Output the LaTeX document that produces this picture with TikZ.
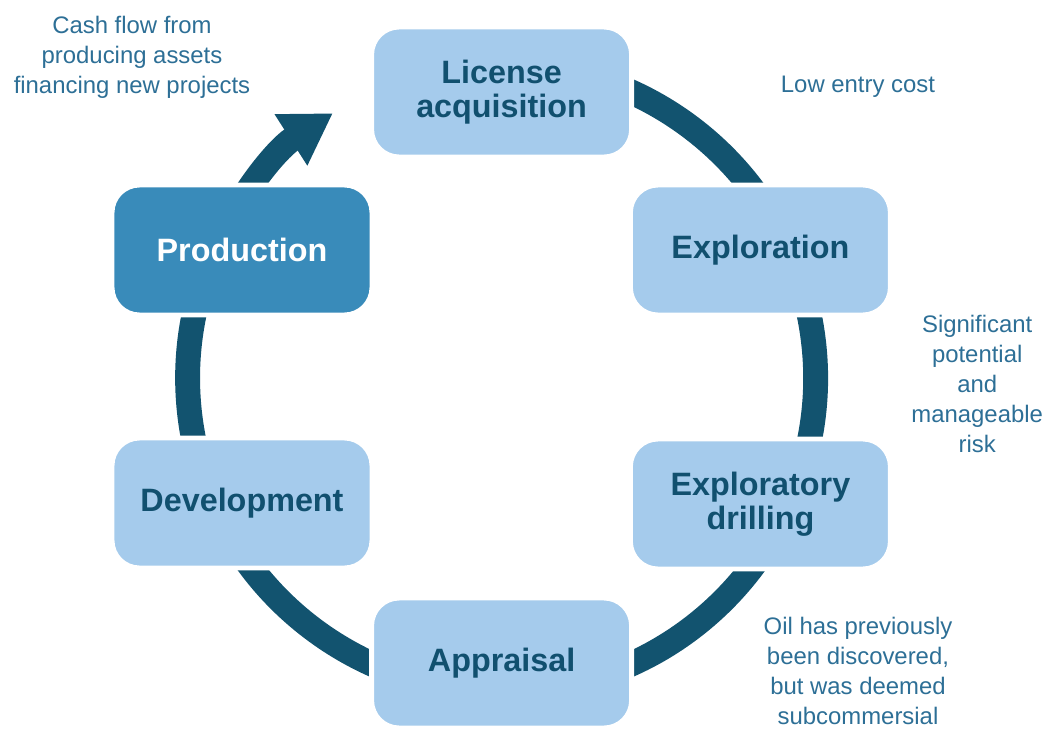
\documentclass[tikz,border=0pt]{standalone}
\usepackage{fontspec}
\setmainfont{Liberation Sans}
\usetikzlibrary{positioning,arrows.meta,backgrounds,calc}

\definecolor{ringblue}{HTML}{12536F}
\definecolor{boxblue}{HTML}{A5CBEC}
\definecolor{prodblue}{HTML}{398BBA}
\definecolor{labelblue}{HTML}{11506F}
\definecolor{noteblue}{HTML}{2D6F96}

\tikzset{
  stage/.style={rectangle, rounded corners=0.69cm, fill=boxblue, draw=white, line width=3.5pt,
    minimum width=6.5cm, minimum height=3.25cm, align=center, text=labelblue,
    font=\fontsize{23}{24}\selectfont\bfseries},
  note/.style={align=center, text=noteblue, font=\fontsize{17}{21.3}\selectfont},
  ring/.style={draw=ringblue, line width=17.7pt},
}

\begin{document}
\begin{tikzpicture}
      \useasboundingbox (-12.54,-8.75) rectangle (13.61,9.45);

      \node (c) {};
      \node[stage, above of=c, node distance=7.15cm] (lic) {License\\acquisition};
      \node[stage, right of=c, node distance=6.47cm, yshift=3.2cm] (expl) {Exploration};
      \node[stage, right of=c, node distance=6.47cm, yshift=-3.15cm] (drill) {Exploratory\\drilling};
      \node[stage, below of=c, node distance=7.125cm] (appr) {Appraisal};
      \node[stage, left of=c, node distance=6.49cm, yshift=-3.125cm] (dev) {Development};
      \node[stage, left of=c, node distance=6.49cm, yshift=3.2cm, fill=prodblue, text=white] (prod) {Production};

      \node[note, left of=lic, node distance=9.24cm, yshift=0.875cm] (cash) {Cash flow from\\producing assets\\financing new projects};
      \node[note, right of=lic, node distance=8.91cm, yshift=0.125cm] (entry) {Low entry cost};
      \node[note, right of=c, node distance=11.89cm, yshift=-0.15cm] (risk) {Significant\\potential\\and\\manageable\\risk};
      \node[note, right of=appr, node distance=8.91cm, yshift=-0.2cm] (oil) {Oil has previously\\been discovered,\\but was deemed\\subcommersial};

      % the cycle runs behind the boxes, the white box edges cut it
      \begin{scope}[on background layer]
        \draw[ring] ($(c)+(100:7.85cm)$) arc[start angle=100, end angle=-200, radius=7.85cm];
        \draw[ring, -{Triangle[width=40.8pt, length=35.4pt]}] ($(c)+(160:7.85cm)$) arc[start angle=160, end angle=122.5, radius=7.85cm];
      \end{scope}
    \end{tikzpicture}
\end{document}
